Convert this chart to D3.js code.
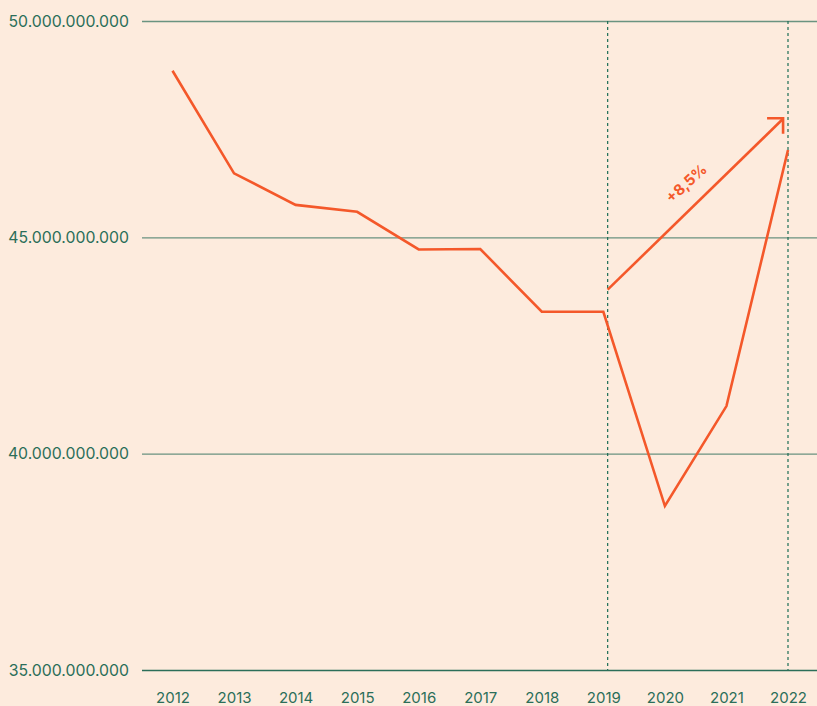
<!DOCTYPE html>
<html>
<head>
<meta charset="utf-8">
<script src="https://cdn.jsdelivr.net/npm/d3@7"></script>
<style>
  html, body { margin: 0; padding: 0; background: #fdebdd; }
  svg { display: block; }
  .tick text { fill: #2b6e59; font-family: Inter, "Open Sans", sans-serif; }
</style>
</head>
<body>
<div id="chart"></div>
<script>
/* Data */
var years = [2012, 2013, 2014, 2015, 2016, 2017, 2018, 2019, 2020, 2021, 2022];
var values = [48.85e9, 46.48e9, 45.75e9, 45.59e9, 44.72e9, 44.73e9, 43.28e9, 43.28e9, 38.79e9, 41.10e9, 47.02e9];
var yTicks = [35e9, 40e9, 45e9, 50e9];
var markerYears = [2019.07, 2022];          // dashed verticals
var arrowFrom = [2019.07, 43.79e9];
var arrowTo = [2021.92, 47.74e9];
var arrowLabel = "+8,5%";

var W = 817, H = 706;
var green = "#2b6e59", orange = "#f4582a";

var locale = d3.formatLocale({decimal: ",", thousands: ".", grouping: [3], currency: ["", ""]});
var fmt = locale.format(",d");

var x = d3.scaleLinear().domain([2012, 2022]).range([172.5, 788]);
var y = d3.scaleLinear().domain([35e9, 50e9]).range([670, 21]);

var svg = d3.select("#chart").append("svg")
  .attr("width", W).attr("height", H);

svg.append("rect").attr("width", W).attr("height", H).attr("fill", "#fdebdd");

// y axis + gridlines
var gx0 = 142;
var yAxis = svg.append("g")
  .attr("transform", "translate(" + gx0 + ",0)")
  .call(d3.axisLeft(y).tickValues(yTicks).tickFormat(fmt)
    .tickSize(-(W - gx0)).tickPadding(13));
yAxis.select(".domain").remove();
yAxis.selectAll(".tick line")
  .attr("stroke", green).attr("stroke-opacity", function(d) { return d == 35e9 ? 1 : 0.7; })
  .attr("stroke-width", 1.3);
yAxis.selectAll(".tick text").attr("font-size", "15.8px").attr("dy", "0.32em");

// x axis labels (sit right at the bottom edge, as in the original)
var xAxis = svg.append("g")
  .attr("transform", "translate(0,692)")
  .call(d3.axisBottom(x).tickValues(years).tickFormat(d3.format("d")).tickSize(0).tickPadding(0));
xAxis.select(".domain").remove();
xAxis.selectAll(".tick text").attr("font-size", "15px").attr("dy", "0.74em");

// dashed markers
svg.selectAll(".marker").data(markerYears).enter().append("line")
  .attr("class", "marker")
  .attr("x1", function(d) { return x(d); }).attr("x2", function(d) { return x(d); })
  .attr("y1", y(50e9)).attr("y2", y(35e9))
  .attr("stroke", "#1d6e55").attr("stroke-width", 1.2)
  .attr("stroke-dasharray", "3,3");

// main line
var line = d3.line()
  .x(function(d, i) { return x(years[i]); })
  .y(function(d) { return y(d); });

svg.append("path").datum(values)
  .attr("d", line)
  .attr("fill", "none")
  .attr("stroke", orange)
  .attr("stroke-width", 2.6)
  .attr("stroke-linejoin", "miter");

// growth arrow
var ax1 = x(arrowFrom[0]), ay1 = y(arrowFrom[1]);
var ax2 = x(arrowTo[0]), ay2 = y(arrowTo[1]);
svg.append("line")
  .attr("x1", ax1).attr("y1", ay1).attr("x2", ax2).attr("y2", ay2)
  .attr("stroke", orange).attr("stroke-width", 2.6);
svg.append("path")
  .attr("d", "M" + (ax2 - 16) + "," + (ay2 - 0.5) + "L" + ax2 + "," + (ay2 - 0.5) + "L" + ax2 + "," + (ay2 + 15))
  .attr("fill", "none").attr("stroke", orange).attr("stroke-width", 2.6)
  .attr("stroke-linejoin", "miter");

var ang = Math.atan2(ay2 - ay1, ax2 - ax1) * 180 / Math.PI;
var t = 0.53;
var lx = ax1 + (ax2 - ax1) * t, ly = ay1 + (ay2 - ay1) * t;
svg.append("text")
  .attr("transform", "translate(" + lx + "," + ly + ") rotate(" + (ang + 2) + ") translate(0,-16)")
  .attr("text-anchor", "middle")
  .attr("fill", orange)
  .attr("font-family", "Inter, sans-serif")
  .attr("font-weight", 700)
  .attr("font-size", "15px")
  .text(arrowLabel);
</script>
</body>
</html>
